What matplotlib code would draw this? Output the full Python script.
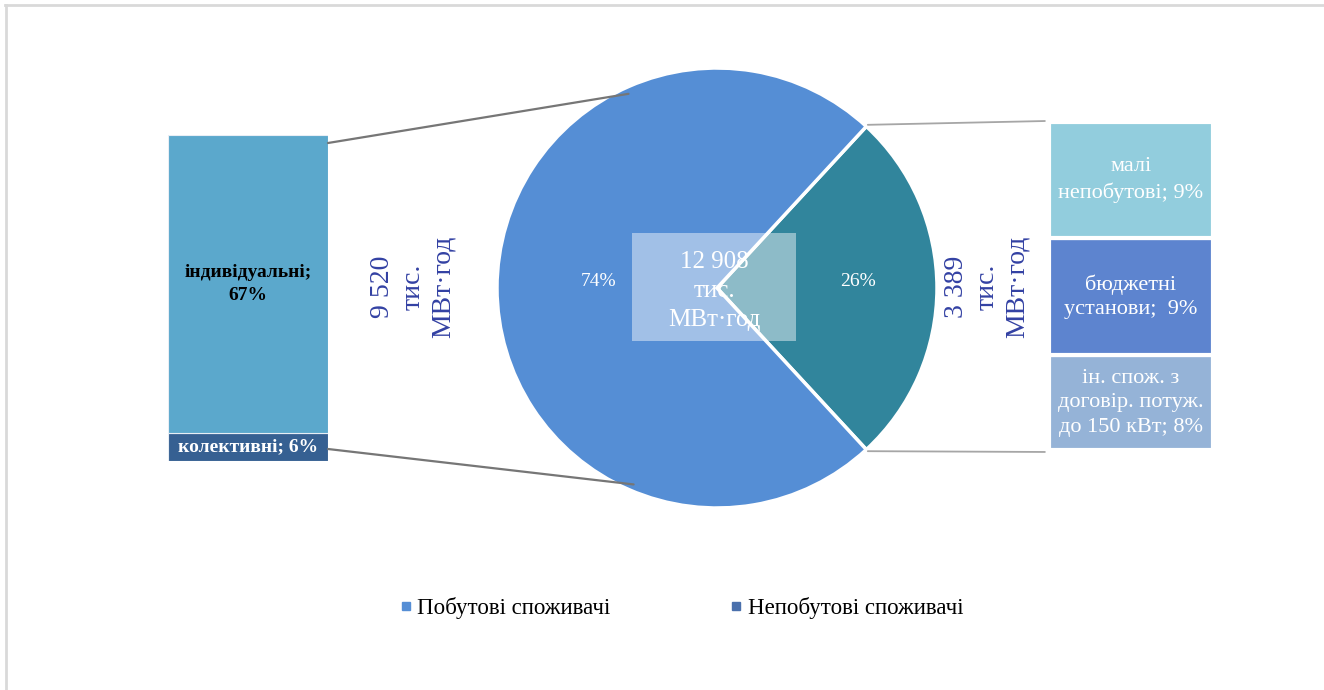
import matplotlib
matplotlib.use("Agg")
import matplotlib.pyplot as plt
from matplotlib.patches import Rectangle, ConnectionPatch
from matplotlib.lines import Line2D
import numpy as np

plt.rcParams['font.family'] = ['Liberation Serif', 'DejaVu Serif']

# data
pie_labels = ['Непобутові споживачі', 'Побутові споживачі']
pie_values = [3389, 9520]           # тис. МВт·год
pie_colors = ['#31859C', '#558ED5']
total_label = '12 908'

left_labels = ['колективні; 6%', 'індивідуальні;\n67%']
left_values = [6.35, 67.4]
left_colors = ['#366092', '#5BA8CC']

right_labels = ['ін. спож. з\nдоговір. потуж.\nдо 150 кВт; 8%', 'бюджетні\nустанови;  9%', 'малі\nнепобутові; 9%']
right_values = [7.5, 9.3, 9.2]
right_colors = ['#95B3D7', '#5D84CF', '#92CDDD']

legend_labels = ['Побутові споживачі', 'Непобутові споживачі']
legend_colors = ['#558ED5', '#4A70AC']

W, H = 1324, 690
fig = plt.figure(figsize=(W / 100, H / 100), dpi=100)


def px_axes(x0, y0, x1, y1):
    return fig.add_axes([x0 / W, 1 - y1 / H, (x1 - x0) / W, (y1 - y0) / H])


# pie
cx, cy, R = 717, 288, 220
pad = 1.03
ax_pie = px_axes(cx - R * pad, cy - R * pad, cx + R * pad, cy + R * pad)
frac0 = pie_values[0] / sum(pie_values)
start = -frac0 * 360 / 2
wedges, _ = ax_pie.pie(pie_values, colors=pie_colors, startangle=start, counterclock=True,
                       radius=1, wedgeprops=dict(edgecolor='white', linewidth=2.5))
ax_pie.set_xlim(-pad, pad)
ax_pie.set_ylim(-pad, pad)
ax_pie.set_aspect('equal')
ax_pie.axis('off')

for w, v, d in zip(wedges, pie_values, [0.64, 0.54]):
    ang = np.deg2rad((w.theta1 + w.theta2) / 2)
    ax_pie.text(d * np.cos(ang), d * np.sin(ang) + 0.03, '%.0f%%' % (100 * v / sum(pie_values)),
                ha='center', va='center', color='white', fontsize=14)

ax_pie.add_patch(Rectangle((-0.386, -0.241), 0.745, 0.491, facecolor='white',
                           alpha=0.45, edgecolor='none', zorder=5))
ax_pie.text(-0.01, -0.015, total_label + '\nтис.\nМВт·год', ha='center', va='center',
            color='white', fontsize=18, zorder=6, linespacing=1.4)

# left stacked bar
ax_l = px_axes(168, 135, 328, 461)
bottom = 0
for v, c, lab in zip(left_values, left_colors, left_labels):
    ax_l.bar(0.5, v, width=1, bottom=bottom, color=c, edgecolor='#e8eef5', linewidth=0.8)
    tc = 'white' if c == '#366092' else 'black'
    ax_l.text(0.5, bottom + v / 2, lab, ha='center', va='center', color=tc,
              fontsize=14, fontweight='bold', linespacing=1.4)
    bottom += v
ax_l.set_xlim(0, 1)
ax_l.set_ylim(0, sum(left_values))
ax_l.axis('off')

# right stacked bar
ax_r = px_axes(1049, 122, 1213, 450)
bottom = 0
for v, c, lab in zip(right_values, right_colors, right_labels):
    ax_r.bar(0.5, v, width=1, bottom=bottom, color=c, edgecolor='white', linewidth=3)
    ax_r.text(0.5, bottom + v / 2, lab, ha='center', va='center', color='white',
              fontsize=16, linespacing=1.4)
    bottom += v
ax_r.set_xlim(0, 1)
ax_r.set_ylim(0, sum(right_values))
ax_r.axis('off')

# totals beside the pie
fig.text(413 / W, 1 - 287 / H, '9 520\nтис.\nМВт·год', rotation=90, ha='center', va='center',
         color='#3341A3', fontsize=20, linespacing=1.28)
fig.text(987 / W, 1 - 287 / H, '3 389\nтис.\nМВт·год', rotation=90, ha='center', va='center',
         color='#3341A3', fontsize=20, linespacing=1.28)

# connector lines
for fy, ang in [(1 - 8 / 326, 114.5), (12 / 326, -113.0)]:
    a = np.deg2rad(ang)
    con = ConnectionPatch(xyA=(1.0, fy), coordsA=ax_l.transAxes,
                          xyB=(0.97 * np.cos(a), 0.97 * np.sin(a)), coordsB=ax_pie.transData,
                          color='#767676', linewidth=1.6, zorder=10)
    fig.add_artist(con)

w0 = wedges[0]
for th, fy in [(w0.theta2, 1.003), (w0.theta1, -0.006)]:
    a = np.deg2rad(th)
    con = ConnectionPatch(xyA=(1.01 * np.cos(a), 1.01 * np.sin(a)), coordsA=ax_pie.transData,
                          xyB=(-0.025, fy), coordsB=ax_r.transAxes,
                          color='#a6a6a6', linewidth=1.3, zorder=10)
    fig.add_artist(con)

# legend
handles = [Line2D([], [], marker='s', linestyle='none', markersize=6, color=c) for c in legend_colors]
fig.legend(handles, legend_labels, loc='center', bbox_to_anchor=(681 / W, 1 - 608 / H), ncol=2,
           frameon=False, fontsize=16.5, columnspacing=5.2, handlelength=0.6, handletextpad=0.2)

# frame
fig.add_artist(Line2D([5 / W, 1], [1 - 5 / H, 1 - 5 / H], color='#d9d9d9', linewidth=2))
fig.add_artist(Line2D([6 / W, 6 / W], [0, 1 - 5 / H], color='#d9d9d9', linewidth=2))

fig.savefig('out.png', dpi=100)
